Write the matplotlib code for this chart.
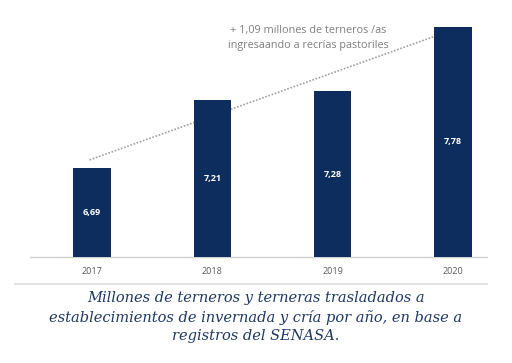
import matplotlib
matplotlib.use("Agg")
import matplotlib.pyplot as plt

years = ["2017", "2018", "2019", "2020"]
values = [6.69, 7.21, 7.28, 7.78]
value_labels = ["6,69", "7,21", "7,28", "7,78"]
trend_x = [-0.02, 3.0]
trend_y = [6.75, 7.755]
note = "+ 1,09 millones de terneros /as\ningresaando a recrías pastoriles"
caption = ("Millones de terneros y terneras trasladados a\n"
           "establecimientos de invernada y cría por año, en base a\n"
           "registros del SENASA.")

fig = plt.figure(figsize=(5.12, 3.63), dpi=100)
ax = fig.add_axes([30/512, 106/363, 457/512, 257/363])
x = list(range(len(years)))
base = 6.0
ax.bar(x, [v - base for v in values], bottom=base, width=0.31, color="#0c2d5e", zorder=3)
for xi, v, lab in zip(x, values, value_labels):
    ax.text(xi, (v + base) / 2, lab, ha="center", va="center", color="white",
            fontsize=6.5, fontfamily="Open Sans", fontweight="bold", zorder=4)
ax.plot(trend_x, trend_y, linestyle=(0, (1, 1)), color="#a0a0a0", lw=1.2, zorder=2)
ax.text(1.80, 7.69, note, ha="center", va="center", color="#7f7f7f",
        fontsize=7.8, fontfamily="Open Sans", linespacing=1.5, zorder=5)
ax.set_xlim(-0.515, 3.283)
ax.set_ylim(base, 7.985)
ax.set_xticks(x)
ax.set_xticklabels(years, fontsize=6.5, color="#595959", fontfamily="Open Sans")
ax.tick_params(axis="x", length=0, pad=7)
ax.set_yticks([])
for s in ["top", "right", "left"]:
    ax.spines[s].set_visible(False)
ax.spines["bottom"].set_color("#d0d0d0")
ax.spines["bottom"].set_linewidth(1.0)

fig.add_artist(plt.Line2D([15/512, 487/512], [1 - 284/363, 1 - 284/363],
                          color="#dcdcdc", lw=1.2))
fig.text(256/512, 1 - 317/363, caption, ha="center", va="center", color="#1f3864",
         fontsize=10.5, fontfamily="DejaVu Serif", style="italic", linespacing=1.4)

fig.savefig("out.png", dpi=100)
